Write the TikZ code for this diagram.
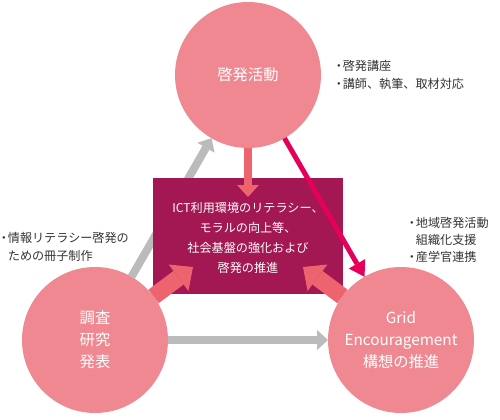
\documentclass[tikz,border=0pt]{standalone}
\usepackage{fontspec}
\setmainfont{Noto Sans CJK JP}
\usepackage{xcolor}
\usetikzlibrary{arrows.meta,positioning}
\definecolor{circlepink}{HTML}{EF8890}
\definecolor{boxwine}{HTML}{A31752}
\definecolor{arrowsalmon}{HTML}{EE646E}
\definecolor{arrowcrimson}{HTML}{E5005A}
\definecolor{arrowgray}{HTML}{BBBBBB}
\definecolor{notegray}{HTML}{333333}
\newcommand\notedot{\makebox[0.65em][c]{・}}

\begin{document}
\begin{tikzpicture}[x=0.02cm, y=-0.02cm,
  every node/.style={inner sep=0pt, outer sep=0pt},
  ring/.style={circle, fill=circlepink, minimum size=2.92cm, text=white,
    align=center, font=\fontsize{8.7pt}{12.5pt}\selectfont},
  centerbox/.style={rectangle, fill=boxwine, minimum width=3.8cm, minimum height=2.32cm},
  note/.style={text=notegray, align=left, anchor=west, font=\fontsize{6.9pt}{9.8pt}\selectfont},
  grayline/.style={draw=arrowgray, line width=0.16cm,
    -{Triangle[width=0.4cm, length=0.22cm, line width=0pt]}},
  thinred/.style={draw=arrowcrimson, line width=0.1cm,
    -{Triangle[width=0.38cm, length=0.3cm, line width=0pt]}},
  smallsalmon/.style={draw=arrowsalmon, line width=0.16cm,
    -{Triangle[width=0.44cm, length=0.24cm, line width=0pt]}},
  bigsalmon/.style={draw=arrowsalmon, line width=0.34cm,
    -{Triangle[width=0.66cm, length=0.36cm, line width=0pt]}}]
  \useasboundingbox (0,0) rectangle (500,419);
  % three circles
  \node[ring] (keihatsu) at (248,75) {啓発活動};
  \node[ring] (chosa) at (95,340) {調査\\研究\\発表};
  \node[ring] (grid) at (401,340) {Grid\\Encouragement\\構想の推進};
  % gray arrow behind the box
  \draw[grayline] (chosa) -- (keihatsu);
  % center box
  \node[centerbox] (goal) at (248,236) {};
  \node[text=white, align=center, font=\fontsize{6.9pt}{11.3pt}\selectfont] (goaltext) at (248,238)
    {ICT利用環境のリテラシー、\\モラルの向上等、\\社会基盤の強化および\\啓発の推進};
  % arrows into the box
  \coordinate (tiptop) at (248,197);
  \coordinate (tipleft) at (193,267);
  \coordinate (tipright) at (303,267);
  \draw[smallsalmon] (keihatsu) -- (tiptop);
  \draw[bigsalmon] (chosa) -- (tipleft);
  \draw[bigsalmon] (grid) -- (tipright);
  \draw[thinred] (keihatsu) -- (grid);
  \draw[grayline] (chosa) -- (grid);
  % notes
  \node[note, right=0.28cm of keihatsu] (notetop) {\notedot 啓発講座\\\notedot 講師、執筆、取材対応};
  \node[note] (noteleft) at (0,247) {\notedot 情報リテラシー啓発の\\\hspace{0.65em}ための冊子制作};
  \node[note] (noteright) at (408,240) {\notedot 地域啓発活動\\\hspace{0.65em}組織化支援\\\notedot 産学官連携};
\end{tikzpicture}
\end{document}
